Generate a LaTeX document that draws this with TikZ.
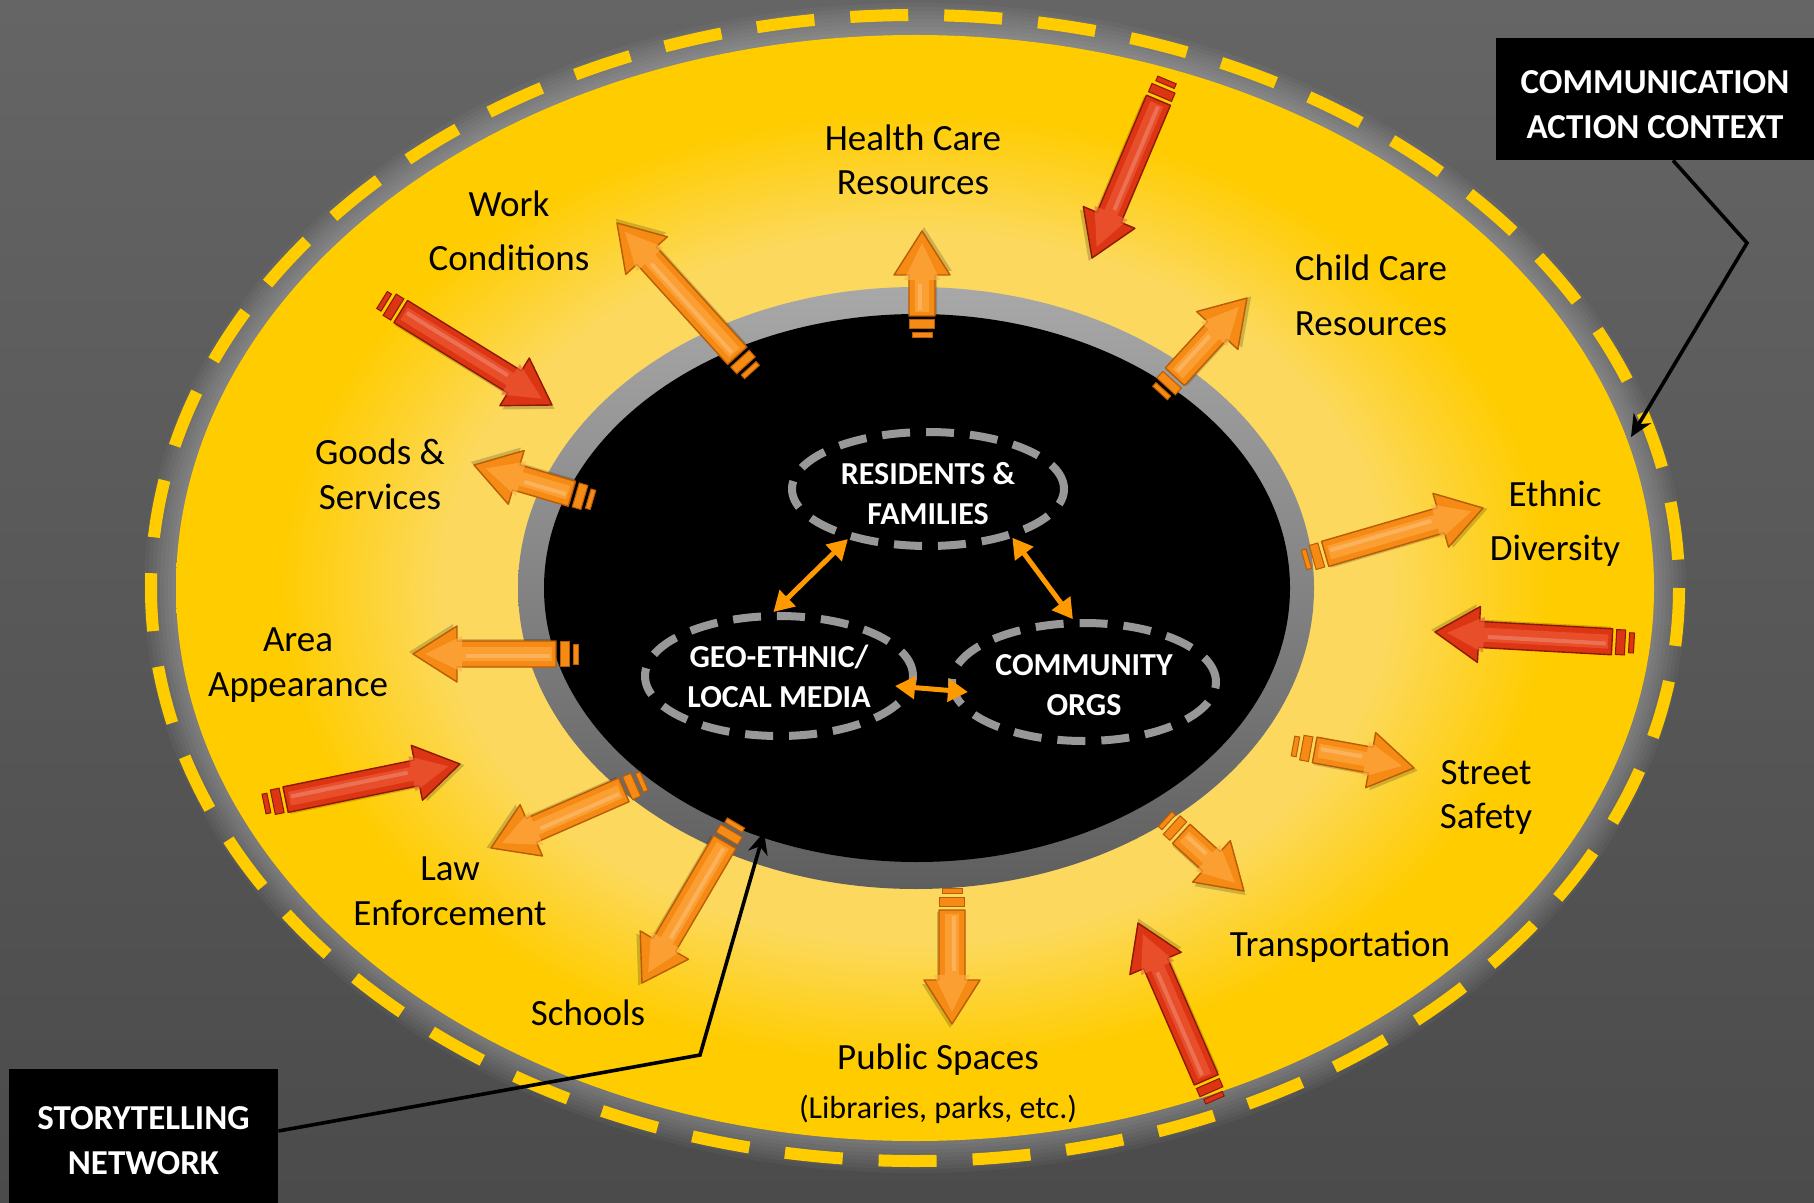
\documentclass[tikz,border=0pt]{standalone}
\usepackage{fontspec}
\setmainfont{Carlito}
\usetikzlibrary{arrows.meta,shapes.geometric,calc}

\definecolor{bgtop}{HTML}{656565}
\definecolor{bgbot}{HTML}{4B4B4B}
\definecolor{ybase}{HTML}{FFCC00}
\definecolor{ylight}{HTML}{FCD95E}
\definecolor{ringtop}{HTML}{A8A8A8}
\definecolor{ringbot}{HTML}{5E5E5E}
\definecolor{dashgray}{HTML}{989898}
\definecolor{dblor}{HTML}{FF9900}
\definecolor{redbase}{HTML}{DC3514}
\definecolor{redlight}{HTML}{F0603A}
\definecolor{reddark}{HTML}{8E1804}
\definecolor{orabase}{HTML}{F58A14}
\definecolor{oralight}{HTML}{FFAE48}
\definecolor{oradark}{HTML}{B85C06}

\pgfdeclareradialshading{yglow}{\pgfpoint{0bp}{0bp}}{color(0bp)=(ylight); color(14bp)=(ylight); color(16bp)=(ylight); color(21.5bp)=(ybase); color(50bp)=(ybase)}

% fancy 3D arrow: tail x, tail y, tip x, tip y, colour prefix
\newcommand{\fancyarr}[5]{%
  \pgfmathsetmacro{\farang}{atan2(-((#4)-(#2)), (#3)-(#1))}%
  \pgfmathsetmacro{\farlen}{veclen((#3)-(#1), (#4)-(#2))}%
  \begin{scope}[shift={(#1,#2)}, rotate=\farang]
    \fill[black, opacity=.18] (24,-11) -- ({\farlen-40},-11) -- ({\farlen-40},-26) -- ({\farlen+4},2) -- ({\farlen-40},30) -- ({\farlen-40},15) -- (24,15) -- cycle;
    \filldraw[fill=#5base, draw=#5dark, line width=.5pt] (0,-10) rectangle (5,10);
    \filldraw[fill=#5base, draw=#5dark, line width=.5pt] (9,-12.5) rectangle (18,12.5);
    \filldraw[fill=#5base, draw=#5dark, line width=.7pt, line join=round] (22,-13) -- ({\farlen-44},-13) -- ({\farlen-44},-28) -- (\farlen,0) -- ({\farlen-44},28) -- ({\farlen-44},13) -- (22,13) -- cycle;
    \fill[#5light, opacity=.6] (26,-7) -- ({\farlen-49},-7) -- ({\farlen-49},-18) -- ({\farlen-12},0) -- ({\farlen-49},18) -- ({\farlen-49},7) -- (26,7) -- cycle;
    \fill[white, opacity=.2] (28,-4) rectangle ({\farlen-53},0);
  \end{scope}}

\tikzset{
  lbl/.style={font=\fontsize{18.5}{22}\selectfont, align=center, inner sep=0pt, text=black},
  ctr/.style={ellipse, draw=dashgray, line width=4pt, dash pattern=on 14pt off 8pt,
    text=white, font=\bfseries\fontsize{16}{20}\selectfont, align=center, inner sep=0pt},
  dbl/.style={dblor, line width=2.5pt, {Triangle[length=10pt,width=11pt]}-{Triangle[length=10pt,width=11pt]}},
  callout/.style={fill=black, text=white, font=\bfseries\fontsize{17.5}{22.5}\selectfont, align=center, inner sep=0pt},
  conn/.style={black, line width=1.8pt, -{Stealth[length=11pt,width=10pt]}}
}

\begin{document}
\begin{tikzpicture}[x=0.5pt,y=-0.5pt]
\useasboundingbox (0,0) rectangle (1814,1203);
\clip (0,0) rectangle (1814,1203);
\shade[top color=bgtop, bottom color=bgbot] (0,0) rectangle (1814,1203);

% halo around the yellow disc
\foreach \g in {1,...,8}
  \fill[white, opacity=.035] (915,588) ellipse [x radius={739+4*\g}, y radius={553+4*\g}];

% outer dashed ring
\draw[ybase, line width=6pt, dash pattern=on 29pt off 18pt] (915,588) ellipse [x radius=764, y radius=573];

% yellow disc, grey ring, black core
\shade[shading=yglow] (915,588) ellipse [x radius=739, y radius=553];
\shade[top color=ringtop, bottom color=ringbot] (916,588) ellipse [x radius=398, y radius=301];
\fill[black] (917,588) ellipse [x radius=373, y radius=274];

% orange arrows (outward)
\fancyarr{752}{372}{617}{223}{ora}
\fancyarr{922}{338}{922}{231}{ora}
\fancyarr{1160}{393}{1247}{298}{ora}
\fancyarr{593}{500}{474}{465}{ora}
\fancyarr{1304}{560}{1483}{508}{ora}
\fancyarr{578}{654}{413}{654}{ora}
\fancyarr{1293}{746}{1414}{768}{ora}
\fancyarr{644}{781}{491}{848}{ora}
\fancyarr{736}{823}{642}{983}{ora}
\fancyarr{1165}{819}{1244}{891}{ora}
\fancyarr{952}{888}{952}{1024}{ora}

% red arrows (inward)
\fancyarr{1167}{80}{1092}{258}{red}
\fancyarr{382}{300}{552}{405}{red}
\fancyarr{1634}{643}{1435}{632}{red}
\fancyarr{264}{804}{460}{764}{red}
\fancyarr{1215}{1100}{1138}{923}{red}

% central network
\node[ctr, minimum width=136pt, minimum height=57pt, text height=36pt] (res) at (928,489) {RESIDENTS \&\\FAMILIES};
\node[ctr, minimum width=134pt, minimum height=60pt] (geo) at (779,676) {GEO-ETHNIC/\\LOCAL MEDIA};
\node[ctr, minimum width=132pt, minimum height=59pt, text height=33.5pt] (com) at (1084,682) {COMMUNITY\\ORGS};
\draw[dbl] (res.212) -- (geo.95);
\draw[dbl] (res.330) -- (com.100);
\draw[dbl] ($(geo.east)+(-22,10)$) -- ($(com.west)+(20,10)$);

% labels
\node[lbl] (health) at (913,160) {Health Care\\Resources};
\node[lbl, font=\fontsize{18.5}{27}\selectfont] (work) at (509,231) {Work\\Conditions};
\node[lbl, font=\fontsize{18.5}{27.5}\selectfont] (child) at (1371,295) {Child Care\\Resources};
\node[lbl, font=\fontsize{18.5}{22.5}\selectfont] (goods) at (380,474) {Goods \&\\Services};
\node[lbl, font=\fontsize{18.5}{27}\selectfont] (ethnic) at (1555,524) {Ethnic\\Diversity};
\node[lbl, font=\fontsize{18.5}{22.5}\selectfont] (area) at (298,665) {Area\\Appearance};
\node[lbl] (street) at (1486,797) {Street\\Safety};
\node[lbl, font=\fontsize{18.5}{22.5}\selectfont] (law) at (450,891) {Law\\Enforcement};
\node[lbl] (transp) at (1340,947) {Transportation};
\node[lbl] (schools) at (588,1013) {Schools};
\node[lbl] (public) at (938,1060) {Public Spaces};
\node[lbl, font=\fontsize{16}{20}\selectfont] (publib) at (938,1109) {(Libraries, parks, etc.)};

% callouts
\node[callout, minimum width=159pt, minimum height=61pt, text height=39.5pt] (comm) at (1655,99) {COMMUNICATION\\ACTION CONTEXT};
\node[callout, minimum width=134.5pt, minimum height=72pt] (story) at (143.5,1141) {STORYTELLING\\NETWORK};
\coordinate (cA) at (1747,243);
\coordinate (tipA) at (1631,437);
\coordinate (cB) at (700,1055);
\coordinate (tipB) at (764,832);
\draw[conn] ($(comm.south)+(18,0)$) -- (cA) -- (tipA);
\draw[conn] ($(story.east)+(0,-10)$) -- (cB) -- (tipB);
\end{tikzpicture}
\end{document}
